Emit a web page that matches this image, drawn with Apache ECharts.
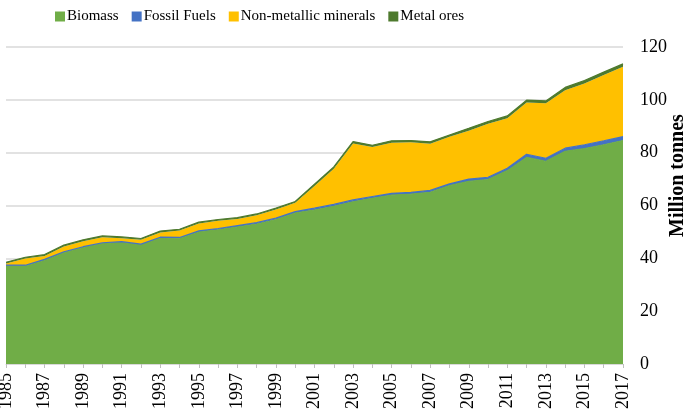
<!DOCTYPE html>
<html>
<head>
<meta charset="utf-8">
<script src="https://cdn.jsdelivr.net/npm/echarts@6/dist/echarts.min.js"></script>
<style>html,body{margin:0;padding:0;background:#fff;}#c{width:685px;height:413px;}</style>
</head>
<body>
<div id="c"></div>
<script>
const years = ['1985','1986','1987','1988','1989','1990','1991','1992','1993','1994','1995','1996','1997','1998','1999','2000','2001','2002','2003','2004','2005','2006','2007','2008','2009','2010','2011','2012','2013','2014','2015','2016','2017'];
const biomass = [37.1,37.1,39.3,42.2,44.1,45.6,46.0,45.1,47.7,47.6,50.1,50.8,51.9,53.0,54.7,57.2,58.3,59.7,61.4,62.7,63.9,64.3,65.0,67.5,69.1,69.8,73.2,78.2,76.7,80.5,81.5,83.0,84.6];
const fossilFuels = [0.3,0.3,0.3,0.3,0.3,0.3,0.3,0.3,0.3,0.3,0.3,0.5,0.5,0.5,0.5,0.5,0.7,0.7,0.7,0.7,0.7,0.7,0.7,0.7,0.9,0.9,0.9,1.2,1.2,1.2,1.5,1.5,1.5];
const nonMetallic = [0.6,2.5,1.3,2.0,2.1,2.1,1.3,1.6,1.8,2.6,2.8,2.9,2.5,2.8,3.3,3.3,8.4,13.5,21.4,18.7,19.2,18.9,17.7,17.8,18.3,20.2,18.9,19.6,20.8,21.9,23.2,24.9,26.4];
const metalOres = [0.5,0.5,0.5,0.5,0.5,0.5,0.5,0.5,0.5,0.5,0.5,0.5,0.5,0.5,0.5,0.5,0.7,0.7,0.7,0.7,0.7,0.7,0.7,0.7,0.9,0.9,0.9,0.9,0.9,1.1,1.1,1.1,1.1];
const seriesNames = ['Biomass','Fossil Fuels','Non-metallic minerals','Metal ores'];
const colors = ['#70AD47','#4472C4','#FFC000','#4E7A2E'];
const yTicks = {min:0, max:120, interval:20};

const font = '"Liberation Serif","Times New Roman",serif';
const dataSets = [biomass, fossilFuels, nonMetallic, metalOres];
const chart = echarts.init(document.getElementById('c'), null, {renderer:'canvas'});
chart.setOption({
  animation:false,
  color: colors,
  legend:{
    top:4, left:50, itemWidth:10, itemHeight:10, itemGap:13, icon:'rect',
    textStyle:{fontFamily:font, fontSize:15, color:'#000', padding:[0,0,0,-3]},
    data: seriesNames
  },
  grid:{left:6, right:62, top:47, bottom:49, containLabel:false, outerBoundsMode:'none'},
  xAxis:{
    type:'category', data:years, boundaryGap:false,
    axisLine:{lineStyle:{color:'#D9D9D9'}},
    axisTick:{show:true, interval:0, length:4, lineStyle:{color:'#BFBFBF'}},
    axisLabel:{interval:1, rotate:90, fontFamily:font, fontSize:18, color:'#000', margin:9}
  },
  yAxis:{
    type:'value', position:'right', min:yTicks.min, max:yTicks.max, interval:yTicks.interval,
    axisLine:{show:false}, axisTick:{show:false},
    splitLine:{lineStyle:{color:'#D9D9D9', width:1.5}},
    axisLabel:{fontFamily:font, fontSize:18, color:'#000', margin:17},
    name:'Million tonnes', nameLocation:'middle', nameGap:45, nameMoveOverlap:false,
    nameTextStyle:{fontFamily:font, fontSize:20, fontWeight:'bold', color:'#000', padding:[0,0,0,60]}
  },
  series: seriesNames.map((n,i)=>({
    name:n, type:'line', stack:'total', data:dataSets[i], symbol:'none',
    lineStyle:{width: i===2 ? 0 : 1.2, color: colors[i]},
    areaStyle:{color: colors[i], opacity:1},
    itemStyle:{color: colors[i]}
  }))
});
</script>
</body>
</html>
